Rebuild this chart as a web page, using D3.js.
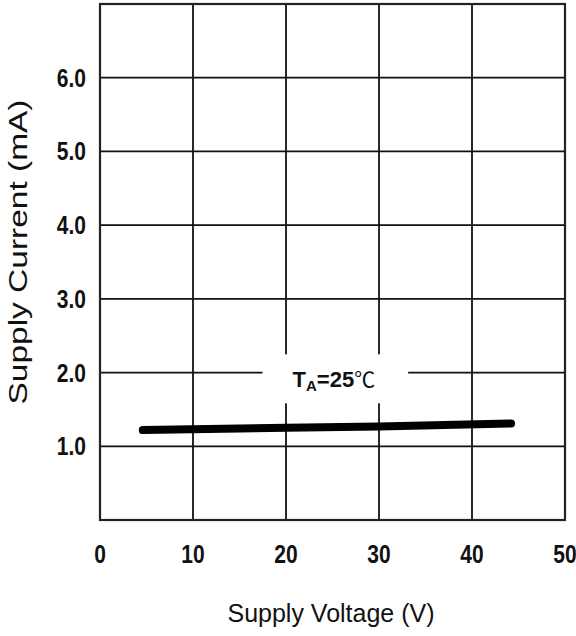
<!doctype html>
<html>
<head>
<meta charset="utf-8" />
<title>Supply Current vs Supply Voltage</title>
<script src="https://cdn.jsdelivr.net/npm/d3@7"></script>
<style>
  body { margin: 0; background: #fff; }
  svg { display: block; }
  .tick-label { font-family: "Liberation Sans", Arial, sans-serif; font-weight: bold; font-size: 25px; fill: #111; }
  .axis-title { font-family: "Liberation Sans", Arial, sans-serif; font-size: 25px; fill: #111; }
</style>
</head>
<body>
<script>
 var xTicks = [0, 10, 20, 30, 40, 50];
 var xTickLabels = ["0", "10", "20", "30", "40", "50"];
 var yTicks = [1, 2, 3, 4, 5, 6];
 var yTickLabels = ["1.0", "2.0", "3.0", "4.0", "5.0", "6.0"];

 // supply current curve at TA=25C
 var voltage = [4.6, 20, 30, 44.2];
 var current = [1.22, 1.25, 1.27, 1.31];

 var w = 576, h = 636;
 var plotL = 100, plotR = 565, plotT = 4, plotB = 520;

 var svg = d3.select("body").append("svg")
     .attr("width", w)
     .attr("height", h);

 var xScale = d3.scaleLinear().domain([0, 50]).range([plotL, plotR]);
 var yScale = d3.scaleLinear().domain([0, 7]).range([plotB, plotT]);

 // grid
 svg.selectAll(".vgrid")
    .data(xTicks.slice(1, -1))
    .enter().append("line")
    .attr("x1", function(d){ return xScale(d); })
    .attr("x2", function(d){ return xScale(d); })
    .attr("y1", plotT).attr("y2", plotB)
    .attr("stroke", "#111").attr("stroke-width", 1.8);

 svg.selectAll(".hgrid")
    .data(yTicks)
    .enter().append("line")
    .attr("x1", plotL).attr("x2", plotR)
    .attr("y1", function(d){ return yScale(d); })
    .attr("y2", function(d){ return yScale(d); })
    .attr("stroke", "#111").attr("stroke-width", 1.8);

 // frame
 svg.append("rect")
    .attr("x", plotL).attr("y", plotT)
    .attr("width", plotR - plotL).attr("height", plotB - plotT)
    .attr("fill", "none").attr("stroke", "#222").attr("stroke-width", 2.2);

 // tick labels (narrow bold look)
 svg.selectAll(".xlab")
    .data(xTicks)
    .enter().append("text")
    .attr("class", "tick-label")
    .attr("text-anchor", "middle")
    .attr("transform", function(d){ return "translate(" + xScale(d) + ",563) scale(0.84,1)"; })
    .text(function(d, i){ return xTickLabels[i]; });

 svg.selectAll(".ylab")
    .data(yTicks)
    .enter().append("text")
    .attr("class", "tick-label")
    .attr("text-anchor", "end")
    .attr("transform", function(d){ return "translate(" + (plotL - 14) + "," + (yScale(d) + 9) + ") scale(0.84,1)"; })
    .text(function(d, i){ return yTickLabels[i]; });

 // annotation box (white background breaking the grid)
 var note = svg.append("g");
 var noteBg = note.append("rect").attr("fill", "#fff");
 var noteText = note.append("text")
     .attr("x", xScale(20.7))
     .attr("y", yScale(1.8))
     .attr("font-family", "Liberation Sans, Arial, sans-serif")
     .attr("font-weight", "bold")
     .attr("font-size", 22)
     .attr("fill", "#111");
 noteText.append("tspan").text("T");
 noteText.append("tspan").attr("font-size", 15).attr("dy", 4).text("A");
 noteText.append("tspan").attr("dy", -4).text("=25");
 noteText.append("tspan")
     .attr("font-family", "Noto Sans CJK SC, sans-serif")
     .attr("font-weight", "normal")
     .attr("font-size", 21)
     .text("℃");
 var bb = noteText.node().getBBox();
 noteBg.attr("x", bb.x - 30).attr("y", bb.y - 9)
       .attr("width", bb.width + 63).attr("height", bb.height + 18);

 // curve
 var line = d3.line()
     .x(function(d){ return xScale(d[0]); })
     .y(function(d){ return yScale(d[1]); });

 svg.append("path")
    .datum(d3.zip(voltage, current))
    .attr("d", line)
    .attr("fill", "none")
    .attr("stroke", "#000")
    .attr("stroke-width", 8)
    .attr("stroke-linecap", "round");

 // axis titles
 svg.append("text")
    .attr("class", "axis-title")
    .attr("x", 331).attr("y", 622)
    .attr("text-anchor", "middle")
    .text("Supply Voltage (V)");

 svg.append("text")
    .attr("class", "axis-title")
    .attr("transform", "translate(27,252) rotate(-90)")
    .attr("text-anchor", "middle")
    .attr("textLength", 305)
    .attr("lengthAdjust", "spacingAndGlyphs")
    .text("Supply Current (mA)");
</script>
</body>
</html>
